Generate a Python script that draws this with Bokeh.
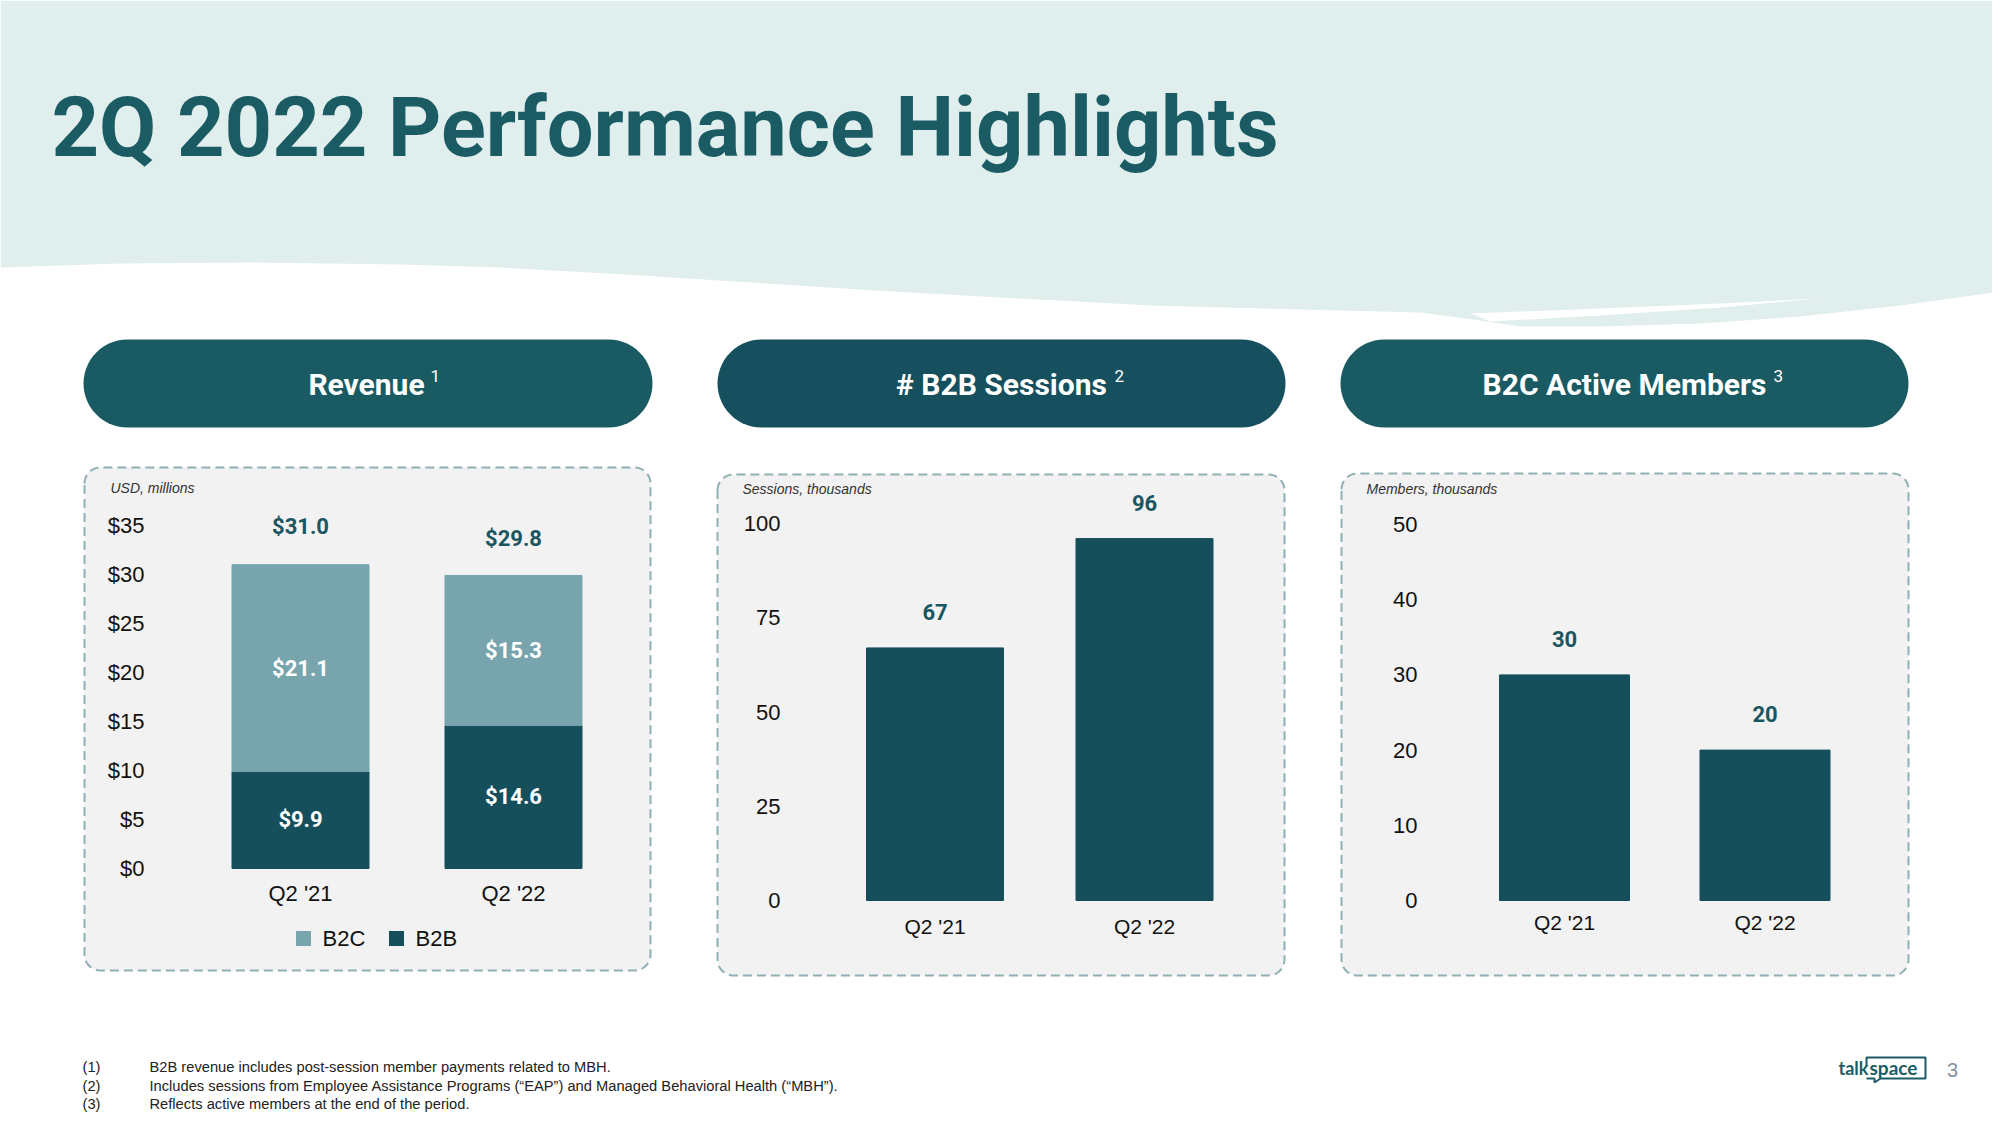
import math
from bokeh.plotting import figure
from bokeh.models import Range1d, ColumnDataSource
from bokeh.core.properties import value
from bokeh.embed import file_html
from bokeh.resources import INLINE

# ---------------- data ----------------
title_text = "2Q 2022 Performance Highlights"
quarters = ["Q2 '21", "Q2 '22"]
segment_names = ["B2C", "B2B"]
rev_b2b = [9.9, 14.6]
rev_b2c = [21.1, 15.3]
rev_totals = [31.0, 29.8]
rev_ticks = [0, 5, 10, 15, 20, 25, 30, 35]
sessions = [67, 96]
session_ticks = [0, 25, 50, 75, 100]
members = [30, 20]
member_ticks = [0, 10, 20, 30, 40, 50]
panel_titles = ["Revenue", "# B2B Sessions", "B2C Active Members"]
panel_notes = ["1", "2", "3"]
unit_labels = ["USD, millions", "Sessions, thousands", "Members, thousands"]
footnote_marks = ["(1)", "(2)", "(3)"]
footnote_texts = [
    "B2B revenue includes post-session member payments related to MBH.",
    "Includes sessions from Employee Assistance Programs (\u201cEAP\u201d) and Managed Behavioral Health (\u201cMBH\u201d).",
    "Reflects active members at the end of the period.",
]

# ---------------- style ----------------
TEAL = "#1b5c64"
PILL = ["#1a5b63", "#164f5d", "#1a5b63"]
DARK = "#164f5c"
LIGHT = "#77a4ad"
VAL = "#1a5660"
HEADER_BG = "#e1eeee"
BOX_BG = "#f2f2f2"
BOX_LINE = "#8fb0b4"
ARIAL = value("Liberation Sans")
ROBOTO = value("Roboto")

W, H = 1992, 1117
X0, Y0 = 0, 0

p = figure(width=W, height=H, x_range=Range1d(X0, X0 + W), y_range=Range1d(Y0 + H, Y0),
           output_backend="svg", toolbar_location=None, min_border=0,
           x_axis_type=None, y_axis_type=None)
p.grid.visible = False
p.outline_line_color = None
p.background_fill_color = "white"
p.border_fill_color = "white"


def rrect(x0, y0, x1, y1, r, n=14):
    xs, ys = [], []
    corners = [(x0 + r, y0 + r, 180), (x1 - r, y0 + r, 270), (x1 - r, y1 - r, 0), (x0 + r, y1 - r, 90)]
    for cx, cy, a0 in corners:
        for i in range(n + 1):
            a = math.radians(a0 + 90 * i / n)
            xs.append(cx + r * math.cos(a))
            ys.append(cy + r * math.sin(a))
    return xs, ys


def y_range_for(zero_px, px_per_unit):
    return Range1d(start=(zero_px - (Y0 + H)) / px_per_unit, end=(zero_px - Y0) / px_per_unit)


def x_range_for(c0, step):
    return Range1d(start=(X0 - c0) / step, end=(X0 + W - c0) / step)


# ---------------- header ----------------
wave = [(0, 267), (120, 263), (250, 262), (400, 264), (500, 267), (625, 274), (750, 282), (875, 290),
        (1000, 297), (1150, 305), (1300, 309), (1420, 312), (1480, 320), (1520, 326), (1600, 326),
        (1700, 323), (1800, 316), (1900, 305), (2000, 291)]
wx = [0] + [a for a, b in wave] + [2000]
wy = [0] + [b for a, b in wave] + [0]
p.patch(wx, wy, fill_color=HEADER_BG, line_color=None)
sw = [(1470, 313), (1600, 308), (1720, 303), (1817, 298), (1720, 307), (1600, 315), (1490, 321)]
p.patch([a for a, b in sw], [b for a, b in sw], fill_color="white", line_color=None)

p.text(x=[51], y=[127], text=[title_text], text_font=ROBOTO, text_font_style="bold",
       text_font_size="83px", text_color=TEAL, text_align="left", text_baseline="middle")

# ---------------- panels ----------------
pills = [(83, 339, 652, 427), (717, 339, 1285, 427), (1340, 339, 1908, 427)]
title_cx = [366, 1001, 1624]
note_x = [430, 1114, 1773]
boxes = [(84, 467, 650, 970), (717, 474, 1284, 975), (1341, 473, 1908, 975)]
unit_xy = [(110, 487), (742, 488), (1366, 488)]

for i in range(3):
    xs, ys = rrect(*pills[i], 44)
    p.patch(xs, ys, fill_color=PILL[i], line_color=None)
    p.text(x=[title_cx[i]], y=[384], text=[panel_titles[i]], text_font=ROBOTO, text_font_style="bold",
           text_font_size="30px", text_color="white", text_align="center", text_baseline="middle")
    p.text(x=[note_x[i]], y=[375], text=[panel_notes[i]], text_font=ROBOTO,
           text_font_size="17px", text_color="white", text_align="left", text_baseline="middle")
    xs, ys = rrect(*boxes[i], 16)
    p.patch(xs, ys, fill_color=BOX_BG, line_color=BOX_LINE, line_width=2, line_dash="9 5")
    p.text(x=[unit_xy[i][0]], y=[unit_xy[i][1]], text=[unit_labels[i]], text_font=ARIAL,
           text_font_style="italic", text_font_size="14px", text_color="#333333",
           text_align="left", text_baseline="middle")

# ---------------- revenue chart ----------------
p.extra_y_ranges["rev"] = y_range_for(868, 9.8)
p.extra_x_ranges["rev"] = x_range_for(300, 213)
rev_src = ColumnDataSource(dict(
    idx=list(range(len(quarters))), q=quarters, B2B=rev_b2b, B2C=rev_b2c, total=rev_totals,
    total_lbl=["$%.1f" % v for v in rev_totals],
    b2b_mid=[v / 2 for v in rev_b2b], b2b_lbl=["$%.1f" % v for v in rev_b2b],
    b2c_mid=[a + b / 2 for a, b in zip(rev_b2b, rev_b2c)], b2c_lbl=["$%.1f" % v for v in rev_b2c],
))
p.vbar_stack(["B2B", "B2C"], x="idx", width=137 / 213, source=rev_src, color=[DARK, LIGHT],
             x_range_name="rev", y_range_name="rev")
for ycol, tcol in (("b2b_mid", "b2b_lbl"), ("b2c_mid", "b2c_lbl")):
    p.text(x="idx", y=ycol, text=tcol, source=rev_src, x_range_name="rev", y_range_name="rev",
           text_font=ROBOTO, text_font_style="bold", text_font_size="22px", text_color="white",
           text_align="center", text_baseline="middle")
p.text(x="idx", y="total", text="total_lbl", source=rev_src, x_range_name="rev", y_range_name="rev",
       y_offset=-38, text_font=ROBOTO, text_font_style="bold", text_font_size="22px", text_color=VAL,
       text_align="center", text_baseline="middle")
p.text(x=[144] * len(rev_ticks), y=rev_ticks, text=["$%d" % t for t in rev_ticks], y_range_name="rev",
       text_font=ARIAL, text_font_size="22px", text_color="#111111", text_align="right", text_baseline="middle")
p.text(x=list(range(len(quarters))), y=[893] * len(quarters), text=quarters, x_range_name="rev",
       text_font=ARIAL, text_font_size="22px", text_color="#111111", text_align="center", text_baseline="middle")
# legend
leg_x = [303, 396]
p.rect(x=leg_x, y=[938, 938], width=15, height=15, fill_color=[LIGHT, DARK], line_color=None)
p.text(x=[x + 19 for x in leg_x], y=[938, 938], text=segment_names, text_font=ARIAL, text_font_size="22px",
       text_color="#111111", text_align="left", text_baseline="middle")

# ---------------- single-series charts ----------------
single = [
    ("ses", sessions, session_ticks, 900, 3.77, 934.5, 209.5, 137, 780, 926),
    ("mem", members, member_ticks, 900, 7.52, 1564, 200.5, 130, 1417, 922),
]
for name, vals, ticks, zero, k, c0, step, bw, tick_x, cat_y in single:
    p.extra_y_ranges[name] = y_range_for(zero, k)
    p.extra_x_ranges[name] = x_range_for(c0, step)
    src = ColumnDataSource(dict(idx=list(range(len(quarters))), v=vals, lbl=[str(v) for v in vals]))
    p.vbar(x="idx", top="v", bottom=0, width=bw / step, source=src, color=DARK,
           x_range_name=name, y_range_name=name)
    p.text(x="idx", y="v", text="lbl", source=src, x_range_name=name, y_range_name=name, y_offset=-36,
           text_font=ROBOTO, text_font_style="bold", text_font_size="22px", text_color=VAL,
           text_align="center", text_baseline="middle")
    p.text(x=[tick_x] * len(ticks), y=ticks, text=[str(t) for t in ticks], y_range_name=name,
           text_font=ARIAL, text_font_size="22px", text_color="#111111", text_align="right", text_baseline="middle")
    p.text(x=list(range(len(quarters))), y=[cat_y] * len(quarters), text=quarters, x_range_name=name,
           text_font=ARIAL, text_font_size="21px", text_color="#111111", text_align="center", text_baseline="middle")

# ---------------- footnotes & logo ----------------
fy = [1066, 1085, 1103]
p.text(x=[82] * 3, y=fy, text=footnote_marks, text_font=ARIAL, text_font_size="14.7px",
       text_color="#222222", text_align="left", text_baseline="middle")
p.text(x=[149] * 3, y=fy, text=footnote_texts, text_font=ARIAL, text_font_size="14.7px",
       text_color="#222222", text_align="left", text_baseline="middle")

p.text(x=[1838], y=[1067], text=["talk"], text_font=value("Lato"), text_font_style="bold",
       text_font_size="18px", text_color=TEAL, text_align="left", text_baseline="middle")
p.text(x=[1869], y=[1067], text=["space"], text_font=value("Lato"), text_font_style="bold",
       text_font_size="19px", text_color=TEAL, text_align="left", text_baseline="middle")
p.line(x=[1866, 1866, 1925, 1925, 1880, 1874, 1874, 1866], y=[1066, 1057, 1057, 1078, 1078, 1082, 1078, 1078],
       line_color=TEAL, line_width=2)
p.text(x=[1952], y=[1069], text=["3"], text_font=ARIAL, text_font_size="20px", text_color="#8391a0",
       text_align="center", text_baseline="middle")

open("out.html", "w").write(file_html(p, INLINE))
